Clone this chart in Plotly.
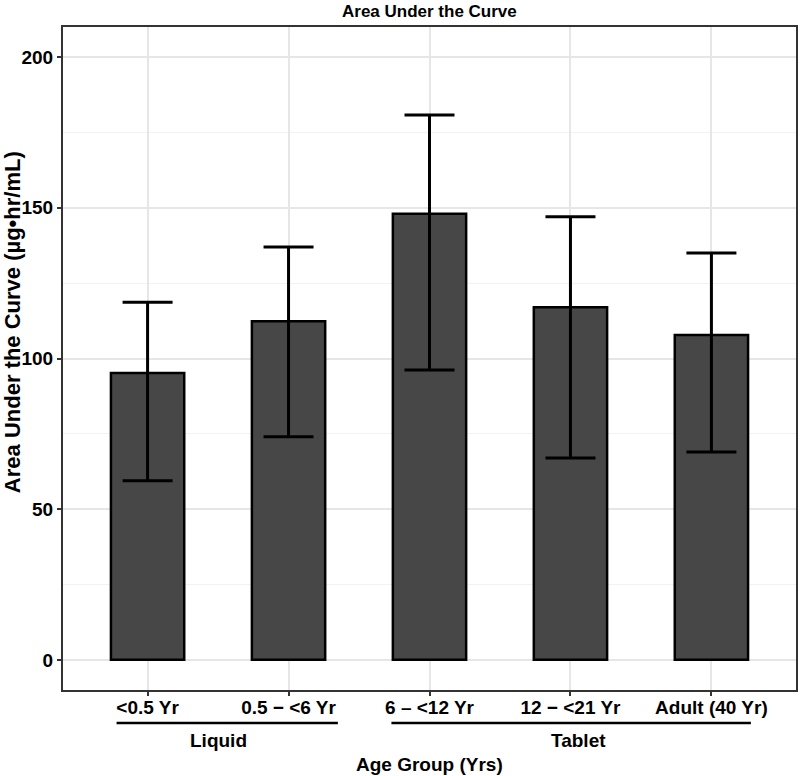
import plotly.graph_objects as go

categories = ["<0.5 Yr", "0.5 \u2212 <6 Yr", "6 \u2013 <12 Yr", "12 \u2212 <21 Yr", "Adult (40 Yr)"]
auc_mean = [95.2, 112.4, 148.0, 117.0, 107.8]
auc_upper = [118.7, 137.0, 180.8, 147.0, 135.0]
auc_lower = [59.4, 74.0, 96.2, 67.0, 69.0]
groups = ["Liquid", "Tablet"]
group_spans = [(-0.22, 1.35), (1.73, 4.28)]
group_centers = [0.5, 3.06]
y_ticks = [0, 50, 100, 150, 200]

W, H = 800, 776
L, R, T, B = 63, 2, 27, 86
ph = H - T - B
pw = W - L - R

def py(px):
    return (H - B - px) / ph

FONT = "Liberation Sans, Arial, sans-serif"
FS = 19

xs = list(range(len(categories)))
fig = go.Figure()
fig.add_trace(go.Bar(
    x=xs, y=auc_mean, width=0.52,
    marker=dict(color="#474747", line=dict(color="black", width=2.5)),
    error_y=dict(type="data", symmetric=False,
                 array=[u - m for u, m in zip(auc_upper, auc_mean)],
                 arrayminus=[m - l for m, l in zip(auc_mean, auc_lower)],
                 color="black", thickness=3, width=25),
    showlegend=False,
))

shapes = []
annotations = []
for g, (a, b), c in zip(groups, group_spans, group_centers):
    shapes.append(dict(type="line", xref="x", yref="paper", x0=a, x1=b,
                       y0=py(723), y1=py(723), line=dict(color="black", width=2.5)))
    annotations.append(dict(text=g, xref="x", yref="paper", x=c, y=py(740),
                            showarrow=False, xanchor="center", yanchor="middle",
                            font=dict(family=FONT, size=FS, color="black", weight="bold")))

annotations.append(dict(text="Age Group (Yrs)", xref="paper", yref="paper", x=0.5, y=py(764),
                        showarrow=False, xanchor="center", yanchor="middle",
                        font=dict(family=FONT, size=FS, color="black", weight="bold")))
annotations.append(dict(text="Area Under the Curve", xref="paper", yref="paper", x=0.5, y=py(11),
                        showarrow=False, xanchor="center", yanchor="middle",
                        font=dict(family=FONT, size=17, color="black", weight="bold")))
annotations.append(dict(text="Area Under the Curve (\u00b5g\u2022hr/mL)", xref="paper", yref="paper",
                        x=(12 - L) / pw, y=py(322), textangle=-90,
                        showarrow=False, xanchor="center", yanchor="middle",
                        font=dict(family=FONT, size=22, color="black", weight="bold")))

fig.update_layout(
    width=W, height=H,
    margin=dict(l=L, r=R, t=T, b=B),
    paper_bgcolor="white", plot_bgcolor="white",
    shapes=shapes, annotations=annotations,
    xaxis=dict(range=[-0.6, 4.6], tickmode="array", tickvals=xs, ticktext=categories,
               showgrid=True, gridcolor="#e6e6e6", gridwidth=1.5,
               ticks="outside", ticklen=4, tickcolor="#333333", tickwidth=1.5,
               ticklabelstandoff=-5,
               showline=True, mirror=True, linecolor="#333333", linewidth=2,
               zeroline=False,
               tickfont=dict(family=FONT, size=FS, color="black", weight="bold")),
    yaxis=dict(range=[-10, 210], tickmode="array", tickvals=y_ticks,
               showgrid=True, gridcolor="#e6e6e6", gridwidth=1.5,
               minor=dict(dtick=25, tick0=0, showgrid=True, gridcolor="#f2f2f2", gridwidth=1),
               ticks="outside", ticklen=4, tickcolor="#333333", tickwidth=1.5,
               showline=True, mirror=True, linecolor="#333333", linewidth=2,
               zeroline=False,
               tickfont=dict(family=FONT, size=FS, color="black", weight="bold")),
)

fig.write_html("out.html", config={"displayModeBar": False},
               post_script="document.body.style.margin='0';")
